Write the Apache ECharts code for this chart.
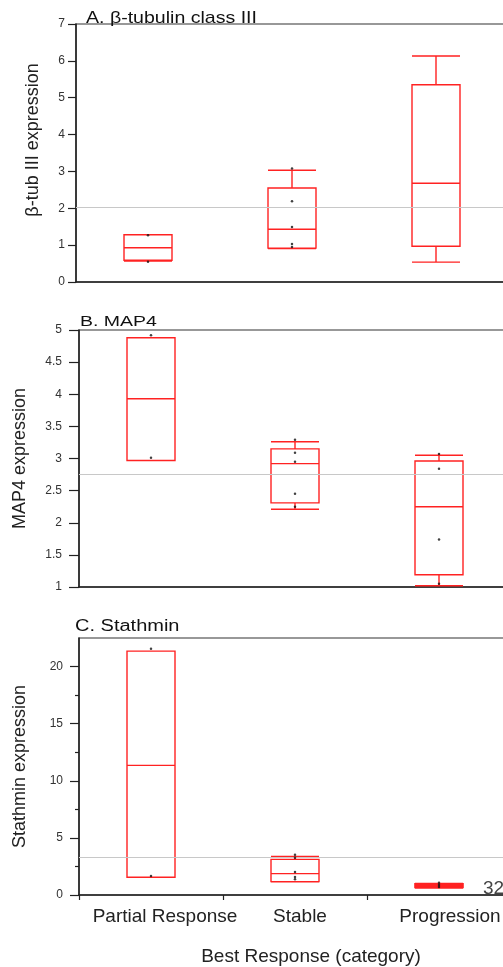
<!DOCTYPE html>
<html>
<head>
<meta charset="utf-8">
<script src="https://cdn.jsdelivr.net/npm/echarts@6/dist/echarts.min.js"></script>
<style>
html,body{margin:0;padding:0;background:#fff;overflow:hidden;}
#chart{width:515px;height:967px;}
</style>
</head>
<body>
<div id="chart"></div>
<script>
// ---- data ----
var categories = ['Partial Response', 'Stable', 'Progression'];
// boxes: [min, Q1, median, Q3, max]
var tubBox = [[0.57, 0.59, 0.93, 1.28, 1.28], [0.91, 0.92, 1.43, 2.55, 3.03], [0.54, 0.97, 2.68, 5.35, 6.13]];
var tubPoints = [[0, 1.27], [0, 0.55], [1, 3.08], [1, 2.19], [1, 1.49], [1, 1.03], [1, 0.95]];
var tubRef = 2.02;
var map4Box = [[2.97, 2.97, 3.93, 4.88, 4.88], [2.21, 2.31, 2.92, 3.15, 3.26], [1.02, 1.19, 2.25, 2.96, 3.05]];
var map4Points = [[0, 4.92], [0, 3.01], [1, 3.29], [1, 3.09], [1, 2.95], [1, 2.45], [1, 2.25], [2, 3.07], [2, 2.84], [2, 1.74], [2, 1.05]];
var map4Ref = 2.75;
var stathBox = [[1.55, 1.55, 11.35, 21.35, 21.35], [1.15, 1.17, 1.87, 3.12, 3.38], [0.62, 0.66, 0.82, 0.97, 1.01]];
var stathPoints = [[0, 21.55], [0, 1.66], [1, 3.53], [1, 3.27], [1, 2.01], [1, 1.57], [1, 1.37], [2, 1.08], [2, 0.87], [2, 0.69]];
var stathRef = 3.27;
var stathMajorTicks = [0, 5, 10, 15, 20];
var stathMinorTicks = [2.5, 7.5, 12.5, 17.5];
var panelTitles = ['A. \u03b2-tubulin class III', 'B. MAP4', 'C. Stathmin'];
var yNames = ['\u03b2-tub III expression', 'MAP4 expression', 'Stathmin expression'];
var xName = 'Best Response (category)';
var cornerText = '32';

var FONT = 'Liberation Sans, Arial, sans-serif';
var chart = echarts.init(document.getElementById('chart'), null, {renderer: 'canvas'});

function xAx(gi, showLabels) {
  return {
    type: 'category', gridIndex: gi, data: categories,
    boundaryGap: true,
    axisLine: {lineStyle: {color: '#222', width: 1.5}},
    axisTick: {show: showLabels, length: 5, lineStyle: {color: '#222', width: 1.2}},
    axisLabel: showLabels ? {
      show: true, interval: 0, hideOverlap: false, margin: 12, fontFamily: FONT, fontSize: 19, color: '#222',
      formatter: function (v, i) { return '{c' + i + '|' + v + '}'; },
      rich: {
        c0: {fontFamily: FONT, fontSize: 19, color: '#222', padding: [0, 0, 0, 28]},
        c1: {fontFamily: FONT, fontSize: 19, color: '#222', padding: [0, 0, 0, 10]},
        c2: {fontFamily: FONT, fontSize: 19, color: '#222', padding: [0, 0, 0, 22]}
      }
    } : {show: false},
    splitLine: {show: false},
    name: showLabels ? xName : '',
    nameLocation: 'middle', nameGap: 52,
    nameTextStyle: {fontFamily: FONT, fontSize: 19, color: '#222', padding: [0, 0, 0, 32]}
  };
}
function yAx(gi, min, max, interval, name, gap, margin, tickLen, namePad) {
  return {
    type: 'value', gridIndex: gi, min: min, max: max, interval: interval,
    axisLine: {show: true, lineStyle: {color: '#222', width: 1.5}},
    axisTick: {show: true, length: tickLen, lineStyle: {color: '#222', width: 1.2}},
    axisLabel: {fontFamily: FONT, fontSize: 12, color: '#333', margin: margin},
    splitLine: {show: false},
    name: name, nameLocation: 'middle', nameGap: gap,
    nameTextStyle: {fontFamily: FONT, fontSize: 18, color: '#222', padding: namePad || 0}
  };
}
function boxS(xi, yi, data, ref, solidIdx) {
  return {
    type: 'boxplot', xAxisIndex: xi, yAxisIndex: yi,
    data: data.map(function (v, i) {
      return i === solidIdx ? {value: v, itemStyle: {color: '#ff2222', borderWidth: 1.6}} : v;
    }),
    boxWidth: [48, 48], silent: true,
    itemStyle: {color: 'rgba(0,0,0,0)', borderColor: '#ff2222', borderWidth: 1.4},
    markLine: {
      silent: true, symbol: ['none', 'none'], label: {show: false},
      lineStyle: {color: '#c8c8c8', type: 'solid', width: 1.2},
      data: [{yAxis: ref}]
    },
    z: 3
  };
}
function ptS(xi, yi, data) {
  return {
    type: 'scatter', xAxisIndex: xi, yAxisIndex: yi, data: data,
    symbolSize: 2.5, itemStyle: {color: '#111'}, silent: true, z: 5
  };
}

var stathMajor = yAx(2, 0, 22.5, 5, yNames[2], 50, 16, 9);
stathMajor.axisTick.customValues = stathMajorTicks;
stathMajor.axisLabel.customValues = stathMajorTicks;
stathMajor.axisLabel.formatter = function (v) { return (v % 5 === 0 && v <= 20) ? String(v) : ''; };
var stathMinor = {
  type: 'value', gridIndex: 2, min: 0, max: 22.5, interval: 2.5, position: 'left',
  axisLine: {show: false}, axisLabel: {show: false}, splitLine: {show: false},
  axisTick: {show: true, length: 4, customValues: stathMinorTicks, lineStyle: {color: '#222', width: 1.2}}
};

var option = {
  animation: false,
  backgroundColor: '#fff',
  grid: [
    {left: 76, right: 7, top: 24, height: 258, show: true, borderColor: '#333', borderWidth: 1.2, backgroundColor: 'transparent'},
    {left: 79, right: 4, top: 330, height: 257, show: true, borderColor: '#333', borderWidth: 1.2, backgroundColor: 'transparent'},
    {left: 79, right: 4, top: 638, height: 258, show: true, borderColor: '#333', borderWidth: 1.2, backgroundColor: 'transparent'}
  ],
  xAxis: [xAx(0, false), xAx(1, false), xAx(2, true)],
  yAxis: [
    yAx(0, 0, 7, 1, yNames[0], 34, 11, 8, [0, 0, 0, 26]),
    yAx(1, 1, 5, 0.5, yNames[1], 50, 17, 10),
    stathMajor,
    stathMinor
  ],
  series: [
    boxS(0, 0, tubBox, tubRef, -1), ptS(0, 0, tubPoints),
    boxS(1, 1, map4Box, map4Ref, -1), ptS(1, 1, map4Points),
    boxS(2, 2, stathBox, stathRef, 2), ptS(2, 2, stathPoints)
  ],
  graphic: [
    {type: 'text', left: 86, top: 10, scaleX: 1.15, style: {text: panelTitles[0], font: '17px ' + FONT, fill: '#111'}},
    {type: 'text', left: 80, top: 314, scaleX: 1.3, style: {text: panelTitles[1], font: '15px ' + FONT, fill: '#111'}},
    {type: 'text', left: 75, top: 619, scaleX: 1.25, style: {text: panelTitles[2], font: '16px ' + FONT, fill: '#111'}},
    {type: 'text', left: 483, top: 879, style: {text: cornerText, font: '19px ' + FONT, fill: '#444'}}
  ]
};
chart.setOption(option);
</script>
</body>
</html>
